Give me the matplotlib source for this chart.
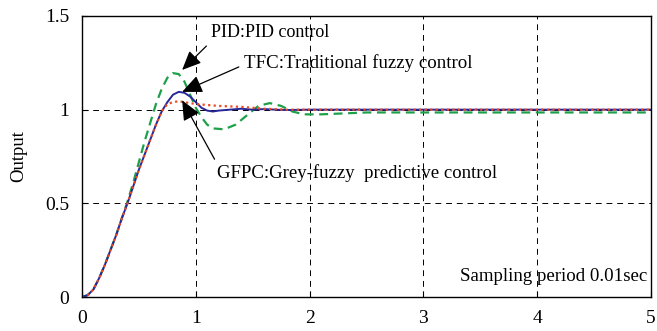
import matplotlib.pyplot as plt

plt.rcParams["font.family"] = ["Liberation Serif", "DejaVu Serif"]

# step responses (time in s, output)
t_pid = [0, 0.05, 0.1, 0.15, 0.2, 0.25, 0.3, 0.35, 0.4, 0.45, 0.5, 0.55, 0.6,
         0.65, 0.7, 0.75, 0.8, 0.85, 0.9, 0.95, 1.0, 1.05, 1.1, 1.15, 1.25,
         1.35, 1.45, 1.55, 1.65, 1.75, 1.85, 1.95, 2.1, 2.3, 2.5, 3, 4, 5]
y_pid = [0, 0.01, 0.04, 0.1, 0.17, 0.25, 0.33, 0.42, 0.51, 0.61, 0.72, 0.83,
         0.93, 1.03, 1.11, 1.17, 1.195, 1.19, 1.15, 1.08, 1.01, 0.96, 0.92,
         0.9, 0.895, 0.92, 0.97, 1.02, 1.035, 1.02, 0.99, 0.975, 0.975, 0.98,
         0.985, 0.985, 0.985, 0.985]

t_tfc = [0, 0.05, 0.1, 0.15, 0.2, 0.25, 0.3, 0.35, 0.4, 0.45, 0.5, 0.55, 0.6,
         0.65, 0.7, 0.75, 0.8, 0.85, 0.9, 0.95, 1.0, 1.05, 1.1, 1.15, 1.2,
         1.3, 1.4, 1.5, 1.6, 1.7, 1.8, 2.0, 2.5, 3, 3.5, 4, 4.5, 5]
y_tfc = [0, 0.01, 0.04, 0.1, 0.17, 0.25, 0.33, 0.42, 0.5, 0.59, 0.68, 0.76,
         0.84, 0.92, 0.99, 1.04, 1.08, 1.095, 1.09, 1.07, 1.04, 1.01, 0.995,
         0.99, 0.995, 1.0, 1.005, 1.0, 1.003, 1.0, 0.998, 1.0, 1.0, 1.0, 1.0,
         1.0, 1.0, 1.0]

t_gfpc = [0, 0.05, 0.1, 0.15, 0.2, 0.25, 0.3, 0.35, 0.4, 0.45, 0.5, 0.55, 0.6,
          0.65, 0.7, 0.75, 0.8, 0.85, 0.9, 1.0, 1.2, 1.4, 1.6, 1.8, 2.0, 3,
          4, 5]
y_gfpc = [0, 0.01, 0.04, 0.1, 0.17, 0.25, 0.33, 0.42, 0.5, 0.59, 0.68, 0.76,
          0.84, 0.92, 0.99, 1.03, 1.04, 1.045, 1.04, 1.03, 1.02, 1.015, 1.005,
          1.0, 1.0, 1.0, 1.0, 1.0]

x_ticks = [0, 1, 2, 3, 4, 5]
y_ticks = [0, 0.5, 1, 1.5]
y_tick_labels = ["0", "0.5", "1", "1.5"]

fig = plt.figure(figsize=(6.57, 3.31), dpi=100)
ax = fig.add_axes([0.1248, 0.1027, 0.866, 0.849])

ax.plot(t_pid, y_pid, color="#1ea04a", lw=1.6, ls=(0, (4, 2.5)))
ax.plot(t_tfc, y_tfc, color="#27279a", lw=1.4)
ax.plot(t_gfpc, y_gfpc, color="#ee4a22", lw=1.6, ls=(0, (1, 1.5)))

ax.set_xlim(0, 5)
ax.set_ylim(0, 1.5)
ax.set_xticks(x_ticks)
ax.set_yticks(y_ticks)
ax.set_yticklabels(y_tick_labels)
ax.tick_params(direction="in", length=4, labelsize=14)
ax.tick_params(axis="x", pad=9)
ax.tick_params(axis="y", pad=9)
ax.grid(True, color="black", ls=(0, (6, 5)), lw=0.7)
for s in ax.spines.values():
    s.set_linewidth(1.0)
ax.set_ylabel("Output", fontsize=13.5, labelpad=13)

def arrow(rel):
    return dict(arrowstyle="-|>,head_length=0.9,head_width=0.4",
                color="black", lw=0.9, shrinkA=2, shrinkB=0, relpos=rel)

ax.annotate("PID:PID control", xy=(0.88, 1.212), xytext=(1.135, 1.41),
            fontsize=13, va="center", ha="left", arrowprops=arrow((0, 0)))
ax.annotate("TFC:Traditional fuzzy control", xy=(0.88, 1.095),
            xytext=(1.425, 1.25), fontsize=13.6, va="center", ha="left",
            arrowprops=arrow((0, 0.4)))
ax.annotate("GFPC:Grey-fuzzy  predictive control", xy=(0.88, 1.05),
            xytext=(1.19, 0.66), fontsize=13.5, va="center", ha="left",
            arrowprops=arrow((0, 1)))
ax.text(4.97, 0.112, "Sampling period 0.01sec", fontsize=13.6, ha="right",
        va="center")

fig.savefig("out.png", dpi=100)
